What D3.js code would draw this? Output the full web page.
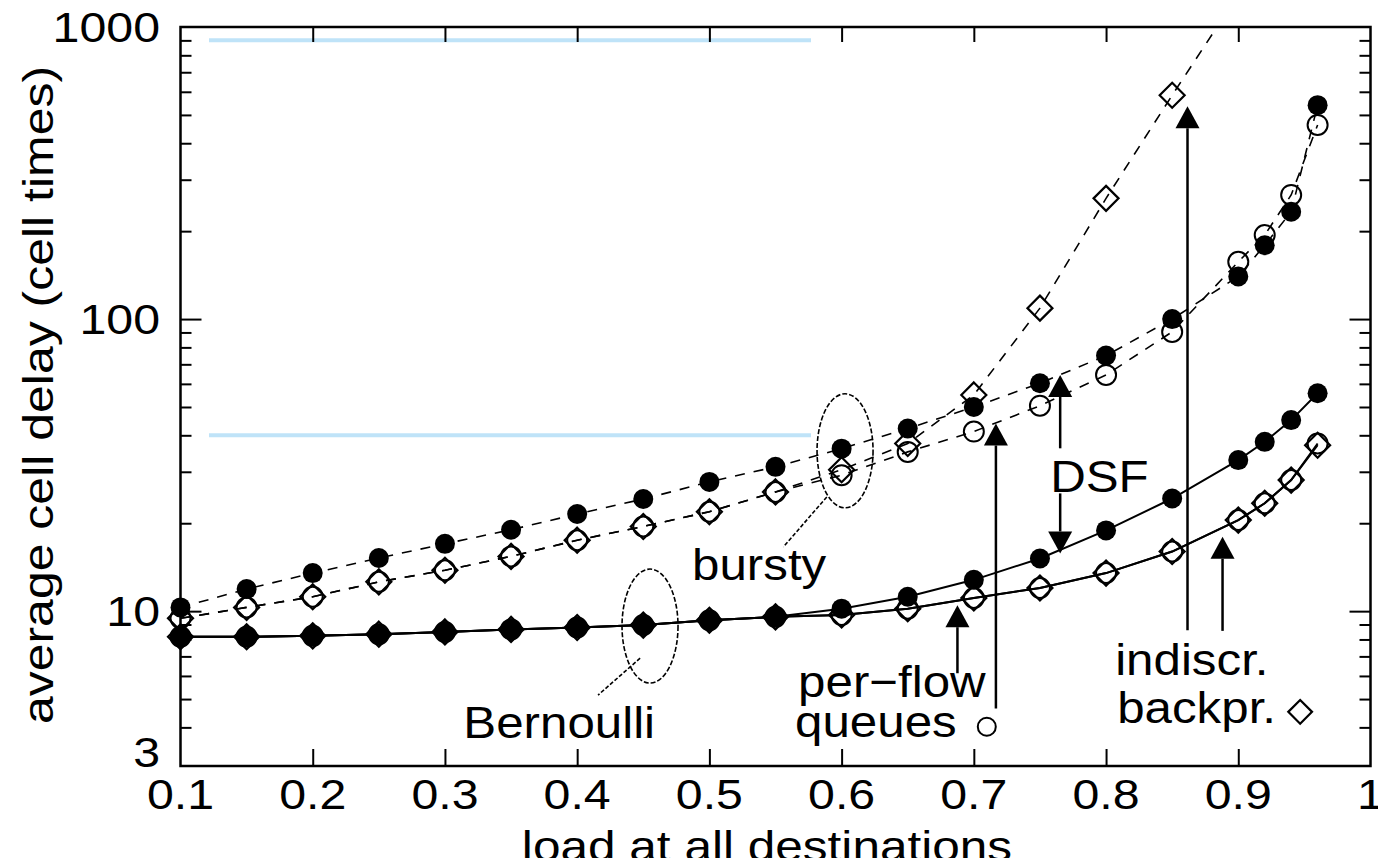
<!DOCTYPE html>
<html>
<head>
<meta charset="utf-8">
<script src="https://cdn.jsdelivr.net/npm/d3@7"></script>
<style>
	html, body { margin: 0; padding: 0; background: #fff; overflow: hidden; }
	svg { display: block; font-family: "Liberation Sans", Arial, Helvetica, sans-serif; }
</style>
</head>
<body>
<svg id="chart" width="1378" height="858"></svg>
<script>
// 負荷 (x)
const loads = [0.1, 0.15, 0.2, 0.25, 0.3, 0.35, 0.4, 0.45, 0.5, 0.55, 0.6, 0.65, 0.7, 0.75, 0.8, 0.85, 0.9, 0.92, 0.94, 0.96];
const loadsBurstyBackpr = [0.1, 0.15, 0.2, 0.25, 0.3, 0.35, 0.4, 0.45, 0.5, 0.55, 0.6, 0.65, 0.7, 0.75, 0.8, 0.85, 0.9];

// bursty traffic
const burstyDsf     = [10.3, 11.9, 13.5, 15.2, 17.0, 19.0, 21.5, 24.2, 27.7, 31.2, 36.0, 42.2, 50.0, 60.3, 75.0, 100, 140, 179, 233, 540];
const burstyPerFlow = [9.45, 10.3, 11.2, 12.6, 13.8, 15.4, 17.5, 19.5, 21.9, 25.6, 29.2, 35.1, 41.2, 50.5, 64.4, 90.4, 157, 194, 266, 462];
const burstyBackpr  = [9.45, 10.3, 11.2, 12.6, 13.8, 15.4, 17.5, 19.5, 21.9, 25.6, 30.5, 37.5, 55.0, 109, 259, 584, 1290];

// Bernoulli traffic
const bernDsf     = [8.17, 8.17, 8.23, 8.34, 8.49, 8.66, 8.79, 8.96, 9.31, 9.56, 10.2, 11.2, 12.8, 15.15, 18.9, 24.3, 32.9, 38.0, 45.1, 55.7];
const bernPerFlow = [8.17, 8.17, 8.23, 8.34, 8.49, 8.66, 8.79, 8.96, 9.31, 9.56, 9.7, 10.2, 11.1, 12.0, 13.5, 16.0, 20.5, 23.4, 28.1, 37.5];
const bernBackpr  = [8.17, 8.17, 8.23, 8.34, 8.49, 8.66, 8.79, 8.96, 9.31, 9.56, 9.7, 10.2, 11.1, 12.0, 13.5, 16.0, 20.5, 23.4, 28.1, 37.0];

// 目盛り
const xTickValues = [0.1, 0.2, 0.3, 0.4, 0.5, 0.6, 0.7, 0.8, 0.9, 1.0];
const xTickLabels = ['0.1', '0.2', '0.3', '0.4', '0.5', '0.6', '0.7', '0.8', '0.9', '1'];
const yLabelValues = [3, 10, 100, 1000];
const yLabelTexts = ['3', '10', '100', '1000'];
const yMajorTicks = [10, 100];
const yMinorTicks = [4, 5, 6, 7, 8, 9, 20, 30, 40, 50, 60, 70, 80, 90, 200, 300, 400, 500, 600, 700, 800, 900];

(function() {
	const svg = d3.select('#chart');
	const x = d3.scaleLinear().domain([0.1, 1.0]).range([180.5, 1370.5]);
	const y = d3.scaleLog().domain([2.95, 1000]).range([766, 27]);
	const left = x.range()[0], right = x.range()[1];
	const top = y.range()[1], bottom = y.range()[0];

	const zip = (xs, ys) => ys.map((v, i) => [xs[i], v]);

	const series = [
		{ pts: zip(loads, bernPerFlow), dashed: false, marker: 'openCircle' },
		{ pts: zip(loads, bernBackpr), dashed: false, marker: 'openDiamond' },
		{ pts: zip(loads, bernDsf), dashed: false, marker: 'filledCircle' },
		{ pts: zip(loads, burstyPerFlow), dashed: true, marker: 'openCircle' },
		{ pts: zip(loadsBurstyBackpr, burstyBackpr), dashed: true, marker: 'openDiamond' },
		{ pts: zip(loads, burstyDsf), dashed: true, marker: 'filledCircle' }
	];

	// 横方向に伸ばした文字
	function stretchText(g, px, py, str, size, sx, anchor, rotate) {
		return g.append('text')
			.attr('transform', `translate(${px},${py})` + (rotate ? ` rotate(${rotate})` : '') + ` scale(${sx},1)`)
			.attr('font-size', size)
			.attr('text-anchor', anchor || 'start')
			.attr('fill', '#000')
			.text(str);
	}

	function drawMarker(g, kind, cx, cy, size) {
		const s = size || 1;
		if (kind === 'filledCircle') {
			g.append('circle').attr('cx', cx).attr('cy', cy).attr('r', 10 * s).attr('fill', '#000');
		} else if (kind === 'openCircle') {
			g.append('circle').attr('cx', cx).attr('cy', cy).attr('r', 10 * s)
				.attr('fill', 'none').attr('stroke', '#000').attr('stroke-width', 2);
		} else {
			const h = 12.5 * s;
			g.append('path')
				.attr('d', `M${cx},${cy - h}L${cx + h},${cy}L${cx},${cy + h}L${cx - h},${cy}Z`)
				.attr('fill', 'none').attr('stroke', '#000').attr('stroke-width', 2.2);
		}
	}

	svg.append('defs').append('clipPath').attr('id', 'plotClip')
		.append('rect').attr('x', left).attr('y', top).attr('width', right - left).attr('height', bottom - top);

	// 水色の線
	[900, 40].forEach(v => {
		svg.append('line')
			.attr('x1', 209).attr('x2', 811)
			.attr('y1', y(v)).attr('y2', y(v))
			.attr('stroke', '#bfe3f8').attr('stroke-width', 4);
	});

	// 目盛り (内向き)
	const axes = svg.append('g').attr('class', 'axes');
	axes.append('g').attr('transform', `translate(0,${bottom})`)
		.call(d3.axisBottom(x).tickValues(xTickValues.slice(1, -1)).tickSize(-17).tickFormat(''));
	axes.append('g').attr('transform', `translate(0,${top})`)
		.call(d3.axisTop(x).tickValues(xTickValues.slice(1, -1)).tickSize(-15).tickFormat(''));
	axes.append('g').attr('transform', `translate(${left},0)`)
		.call(d3.axisLeft(y).tickValues(yMajorTicks).tickSize(-21).tickFormat(''));
	axes.append('g').attr('transform', `translate(${left},0)`)
		.call(d3.axisLeft(y).tickValues(yMinorTicks).tickSize(-11).tickFormat(''));
	axes.append('g').attr('transform', `translate(${right},0)`)
		.call(d3.axisRight(y).tickValues(yMajorTicks).tickSize(-21).tickFormat(''));
	axes.append('g').attr('transform', `translate(${right},0)`)
		.call(d3.axisRight(y).tickValues(yMinorTicks).tickSize(-11).tickFormat(''));
	axes.selectAll('.domain').remove();
	axes.selectAll('.tick line').attr('stroke', '#000').attr('stroke-width', 2);

	// 枠
	svg.append('rect')
		.attr('x', left).attr('y', top).attr('width', right - left).attr('height', bottom - top)
		.attr('fill', 'none').attr('stroke', '#000').attr('stroke-width', 2.5);

	// 軸ラベル
	const labels = svg.append('g');
	xTickValues.forEach((v, i) => {
		stretchText(labels, x(v), 809, xTickLabels[i], 42, 1.15, 'middle');
	});
	yLabelValues.forEach((v, i) => {
		const cy = Math.min(y(v), bottom - 14);
		stretchText(labels, 160, cy + 15, yLabelTexts[i], 42, 1.15, 'end');
	});
	stretchText(labels, 767, 861, 'load at all destinations', 42, 1.18, 'middle');
	stretchText(labels, 53, 395, 'average cell delay (cell times)', 42, 1.19, 'middle', -90);

	// 系列 (線は枠内で切る、マーカーは切らない)
	const plot = svg.append('g');
	const lines = plot.append('g').attr('clip-path', 'url(#plotClip)');
	const line = d3.line().x(d => x(d[0])).y(d => y(d[1]));
	series.forEach(s => {
		lines.append('path')
			.datum(s.pts)
			.attr('d', line)
			.attr('fill', 'none')
			.attr('stroke', '#000')
			.attr('stroke-width', s.dashed ? 1.6 : 2)
			.attr('stroke-dasharray', s.dashed ? '10,9' : null);
	});
	const markerOrder = ['openCircle', 'openDiamond', 'filledCircle'];
	markerOrder.forEach(kind => {
		series.filter(s => s.marker === kind).forEach(s => {
			s.pts.filter(p => p[1] <= 1000).forEach(p => drawMarker(plot, kind, x(p[0]), y(p[1])));
		});
	});

	// 注釈
	const ann = svg.append('g');
	function ellipse(load, delay) {
		ann.append('ellipse')
			.attr('cx', x(load)).attr('cy', y(delay)).attr('rx', 28).attr('ry', 57)
			.attr('fill', 'none').attr('stroke', '#000').attr('stroke-width', 1.6)
			.attr('stroke-dasharray', '5,2');
	}
	function connector(l1, d1, l2, d2) {
		ann.append('line')
			.attr('x1', x(l1)).attr('y1', y(d1)).attr('x2', x(l2)).attr('y2', y(d2))
			.attr('stroke', '#000').attr('stroke-width', 1.6).attr('stroke-dasharray', '4,2');
	}
	// 矢印: 軸の位置 load, 根元 from, 先端 to
	function arrow(load, from, to) {
		const ax = x(load), y0 = y(from), y1 = y(to);
		const dir = y1 < y0 ? 1 : -1;
		const base = y1 + dir * 22;
		ann.append('line').attr('x1', ax).attr('x2', ax).attr('y1', y0).attr('y2', base)
			.attr('stroke', '#000').attr('stroke-width', 2.5);
		ann.append('path')
			.attr('d', `M${ax},${y1}L${ax + 12},${base}L${ax - 12},${base}Z`)
			.attr('fill', '#000');
	}

	ellipse(0.6026, 35.4);
	ellipse(0.4551, 8.89);
	connector(0.5888, 24.6, 0.5560, 16.6);
	connector(0.4476, 6.90, 0.4158, 5.16);

	arrow(0.6876, 6.13, 10.48);
	arrow(0.7167, 4.64, 43.9);
	arrow(0.7653, 36.1, 64.4);
	arrow(0.7653, 25.3, 15.76);
	arrow(0.8616, 8.61, 535);
	arrow(0.8881, 8.56, 17.97);

	const note = (load, delay, str, anchor) =>
		stretchText(ann, x(load), y(delay), str, 44, 1.12, anchor);
	note(0.4869, 12.77, 'bursty');
	note(0.4589, 3.67, 'Bernoulli', 'end');
	note(0.5671, 5.08, 'per\u2212flow');
	note(0.5648, 3.70, 'queues');
	note(0.7577, 25.56, 'DSF');
	note(0.8069, 6.04, 'indiscr.');
	note(0.8084, 4.14, 'backpr.');
	drawMarker(ann, 'openCircle', x(0.7098), y(4.02), 0.9);
	drawMarker(ann, 'openDiamond', x(0.9468), y(4.52), 0.95);
}());
</script>
</body>
</html>
